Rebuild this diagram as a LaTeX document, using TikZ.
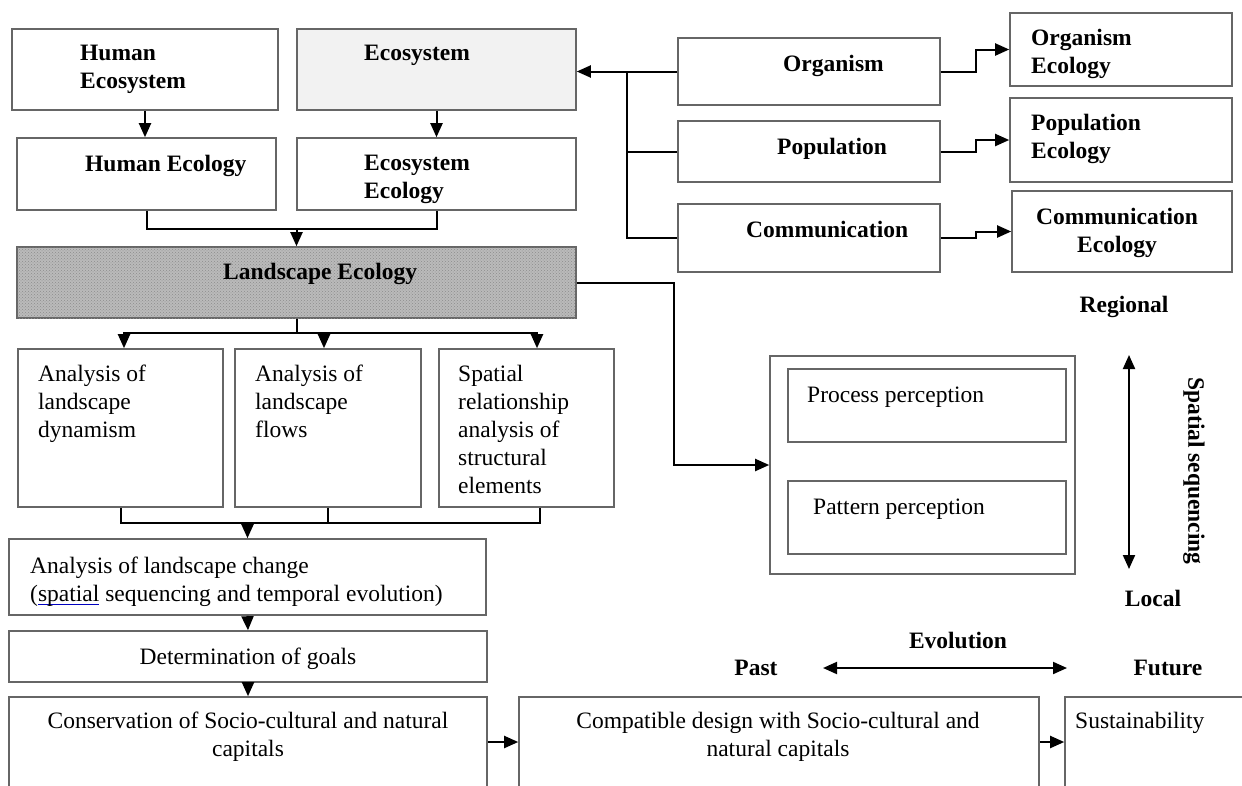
\documentclass[tikz,border=0pt]{standalone}
\usepackage{fontspec}
\setmainfont{Liberation Serif}
\usetikzlibrary{arrows.meta,fit,patterns}
\newcommand\blueul[1]{\setbox0\hbox{#1}\rlap{\textcolor{blue!75!black}{\rule[-3.5pt]{\wd0}{1.2pt}}}#1}
\begin{document}
\begin{tikzpicture}[x=1pt,y=-1pt,
  box/.style={draw=black!60,line width=1.6pt,inner sep=0pt,fill=white},
  lbl/.style={inner sep=0pt,font=\fontsize{23.5}{28}\selectfont,align=left},
  blbl/.style={inner sep=0pt,font=\fontsize{23.5}{28}\selectfont\bfseries,align=left},
  conn/.style={line width=2pt,draw=black},
  arr/.style={conn,-{Triangle[length=14pt,width=12pt]}},
  darr/.style={conn,{Triangle[length=14pt,width=12pt]}-{Triangle[length=14pt,width=12pt]}}]
\clip (0,0) rectangle (1242,785);
\fill[white] (0,0) rectangle (1242,785);
% boxes
\node[box,fit={(12,29)(278,110)}] (heco) {};
\node[box,fill=black!5,fit={(297,29)(576,110)}] (eco) {};
\node[box,fit={(17,138)(276,210)}] (hecol) {};
\node[box,fit={(297,138)(576,210)}] (ecol) {};
\node[box,fill=black!27,postaction={pattern=crosshatch dots,pattern color=black!45},fit={(17,247)(576,318)}] (land) {};
\node[box,fit={(678,38)(940,105)}] (org) {};
\node[box,fit={(678,121)(940,182)}] (pop) {};
\node[box,fit={(678,204)(940,272)}] (com) {};
\node[box,fit={(1010,13)(1232,86)}] (orgE) {};
\node[box,fit={(1010,98)(1232,182)}] (popE) {};
\node[box,fit={(1012,191)(1232,272)}] (comE) {};
\node[box,fit={(18,349)(223,507)}] (anA) {};
\node[box,fit={(235,349)(421,507)}] (anB) {};
\node[box,fit={(439,349)(614,507)}] (anC) {};
\node[box,fit={(9,539)(486,615)}] (chg) {};
\node[box,fit={(9,631)(487,682)}] (goal) {};
\node[box,fit={(9,697)(487,787)}] (cons) {};
\node[box,fit={(519,697)(1039,787)}] (comp) {};
\node[box,fit={(1065,697)(1260,787)}] (sust) {};
\node[box,fit={(770,356)(1075,574)}] (pan) {};
\node[box,fit={(788,369)(1066,442)}] (proc) {};
\node[box,fit={(788,481)(1066,554)}] (patt) {};
% texts
\node[blbl,anchor=north west] (hecoT) at (80,45) {Human\\Ecosystem};
\node[blbl,anchor=north west] (ecoT) at (364,45) {Ecosystem};
\node[blbl,anchor=north west] (hecolT) at (85,155) {Human Ecology};
\node[blbl,anchor=north west] (ecolT) at (364,155) {Ecosystem\\Ecology};
\node[blbl,anchor=north west] (landT) at (223,263) {Landscape Ecology};
\node[blbl,anchor=north west] (orgT) at (783,55) {Organism};
\node[blbl,anchor=north west] (popT) at (777,138) {Population};
\node[blbl,anchor=north west] (comT) at (746,221) {Communication};
\node[blbl,anchor=north west] (orgET) at (1031,29) {Organism\\Ecology};
\node[blbl,anchor=north west] (popET) at (1031,114) {Population\\Ecology};
\node[blbl,anchor=north,align=center] (comET) at (1117,208) {Communication\\Ecology};
\node[lbl,anchor=north west] (anAT) at (38,365) {Analysis of\\landscape\\dynamism};
\node[lbl,anchor=north west] (anBT) at (255,365) {Analysis of\\landscape\\flows};
\node[lbl,anchor=north west] (anCT) at (458,365) {Spatial\\relationship\\analysis of\\structural\\elements};
\node[lbl,anchor=north west] (chgT) at (30,557) {Analysis of landscape change\\(\blueul{spatial} sequencing and temporal evolution)};
\node[lbl,anchor=north,align=center] (goalT) at (248,648) {Determination of goals};
\node[lbl,anchor=north,align=center] (consT) at (248,712) {Conservation of Socio-cultural and natural\\capitals};
\node[lbl,anchor=north,align=center] (compT) at (778,712) {Compatible design with Socio-cultural and\\natural capitals};
\node[lbl,anchor=north west] (sustT) at (1075,712) {Sustainability};
\node[lbl,anchor=north west] (procT) at (807,387) {Process perception};
\node[lbl,anchor=north west] (pattT) at (813,499) {Pattern perception};
\node[blbl,anchor=north] (regT) at (1124,296) {Regional};
\node[blbl,anchor=north] (locT) at (1153,590) {Local};
\node[blbl,rotate=-90] (spT) at (1194,471) {Spatial sequencing};
\node[blbl,anchor=north] (evoT) at (958,632) {Evolution};
\node[blbl,anchor=north] (pastT) at (756,660) {Past};
\node[blbl,anchor=north] (futT) at (1168,660) {Future};
% connectors
\draw[arr] (heco.south) -- (heco.south |- hecol.north);
\draw[arr] (eco.south) -- (eco.south |- ecol.north);
\draw[conn] (hecol.south) -- ++(0,18) -| (ecol.south);
\draw[arr] (land.north |- 0,228) -- (land.north);
\coordinate (jn) at (627,71.5);
\draw[arr] (org.west) -- (org.west -| eco.east);
\draw[conn] (pop.west) -| (jn);
\draw[conn] (com.west) -| (jn);
\draw[arr] (org.east) -- ++(35,0) |- (orgE.west);
\draw[arr] (pop.east) -- ++(35,0) |- (popE.west);
\draw[arr] (com.east) -- ++(35,0) |- (comE.west);
\draw[arr] (land.east) -- ++(97,0) |- (pan.west);
\coordinate (sp) at (296.5,333);
\draw[conn] (land.south) -- (sp);
\draw[arr] (sp) -| ([xshift=3.5pt]anA.north);
\draw[arr] (sp) -| ([xshift=-4pt]anB.north);
\draw[arr] (sp) -| ([xshift=10.5pt]anC.north);
\coordinate (sj) at (247.5,523);
\draw[conn] (anA.south) |- (sj);
\draw[conn] ([xshift=13.5pt]anC.south) |- (sj);
\draw[conn] (anB.south) -- (anB.south |- sj);
\draw[arr] (sj) -- (chg.north);
\draw[arr] (chg.south) -- (goal.north);
\draw[arr] (goal.south) -- (cons.north);
\draw[arr] (cons.east) -- (comp.west);
\draw[arr] (comp.east) -- (sust.west);
\coordinate (vt) at (1129,355);
\coordinate (vb) at (1129,569);
\draw[darr] (vt) -- (vb);
\coordinate (hl) at (823,668);
\coordinate (hr) at (1067,668);
\draw[darr] (hl) -- (hr);
\end{tikzpicture}
\end{document}
